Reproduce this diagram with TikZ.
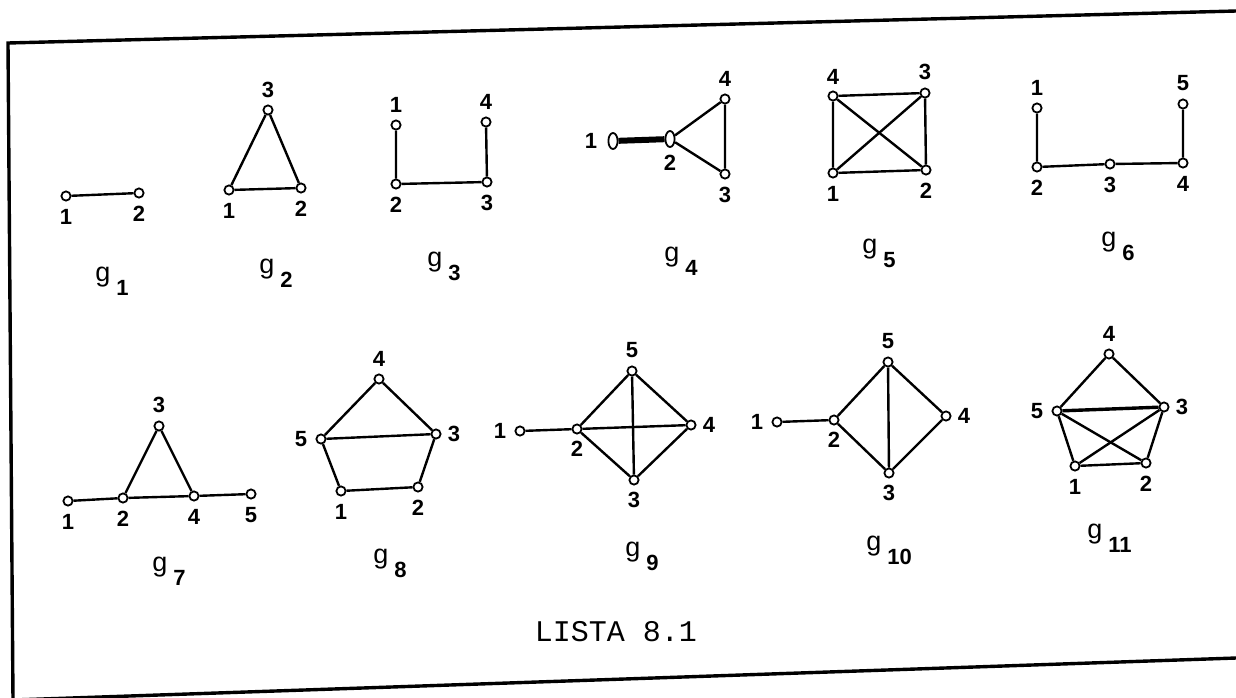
\documentclass[tikz,border=0pt]{standalone}
\usepackage{fontspec}
\setmainfont{Liberation Sans}
\newfontfamily\dotfont{Liberation Mono}
\usetikzlibrary{positioning}
\usetikzlibrary{shapes.geometric}
\tikzset{
vertex/.style={circle, draw, line width=0.9pt, fill=white, inner sep=0pt, minimum size=4.6pt},
oval_vertex/.style={ellipse, draw, line width=0.9pt, fill=white, inner sep=0pt, minimum width=4.6pt, minimum height=8pt},
edge/.style={line width=1.2pt},
heavy_edge/.style={line width=3pt},
num/.style={inner sep=0pt, font=\bfseries\fontsize{11}{11}\selectfont},
gname/.style={inner sep=0pt, anchor=base west, font=\fontsize{13.5}{13.5}\selectfont},
frame_line/.style={line width=1.7pt},
caption/.style={inner sep=0pt, font=\dotfont\fontsize{15}{15}\selectfont}
}
\newcommand{\gsub}[1]{g\kern3pt\raisebox{-7pt}{\bfseries\fontsize{11}{11}\selectfont #1}}

\begin{document}
\begin{tikzpicture}[x=0.5pt, y=-0.5pt]
    \useasboundingbox (0,0) rectangle (1236,697);
    \coordinate (frame_tl) at (8,43);
    \coordinate (frame_tr) at (1236,11);
    \coordinate (frame_bl) at (13,700);
    \coordinate (frame_br) at (1236,658);
    \draw[frame_line] (frame_tr) -- (frame_tl) -- (frame_bl);
    \draw[frame_line] (frame_bl) -- (frame_br);

    \node[vertex] (g1_1) at (66,196) {};
    \node[vertex] (g1_2) at (139,193) {};
    \draw[edge] (g1_1) -- (g1_2);
    \node[num] (g1_l1) [below=3.5pt of g1_1] {1};
    \node[num] (g1_l2) [below=3.5pt of g1_2] {2};
    \node[gname] (g1_name) at (95,281) {\gsub{1}};

    \node[vertex] (g2_1) at (229,190) {};
    \node[vertex] (g2_2) at (301,188) {};
    \node[vertex] (g2_3) at (268,110) {};
    \draw[edge] (g2_1) -- (g2_2) -- (g2_3) -- (g2_1);
    \node[num] (g2_l1) [below=3.5pt of g2_1] {1};
    \node[num] (g2_l2) [below=3.5pt of g2_2] {2};
    \node[num] (g2_l3) [above=3pt of g2_3] {3};
    \node[gname] (g2_name) at (259,273) {\gsub{2}};

    \node[vertex] (g3_1) at (396,125) {};
    \node[vertex] (g3_2) at (396,184) {};
    \node[vertex] (g3_3) at (487,182) {};
    \node[vertex] (g3_4) at (486,122) {};
    \draw[edge] (g3_1) -- (g3_2) -- (g3_3) -- (g3_4);
    \node[num] (g3_l1) [above=3.5pt of g3_1] {1};
    \node[num] (g3_l2) [below=3.5pt of g3_2] {2};
    \node[num] (g3_l3) [below=3.5pt of g3_3] {3};
    \node[num] (g3_l4) [above=3.5pt of g3_4] {4};
    \node[gname] (g3_name) at (427,266) {\gsub{3}};

    \node[oval_vertex] (g4_1) at (613,141) {};
    \node[oval_vertex] (g4_2) at (670,139) {};
    \node[vertex] (g4_3) at (725,174) {};
    \node[vertex] (g4_4) at (725,99) {};
    \draw[heavy_edge] (g4_1) -- (g4_2);
    \draw[edge] (g4_2) -- (g4_4) -- (g4_3) -- (g4_2);
    \node[num] (g4_l1) [left=5pt of g4_1] {1};
    \node[num] (g4_l2) [below=3.5pt of g4_2] {2};
    \node[num] (g4_l3) [below=3.5pt of g4_3] {3};
    \node[num] (g4_l4) [above=3.5pt of g4_4] {4};
    \node[gname] (g4_name) at (664,261) {\gsub{4}};

    \node[vertex] (g5_1) at (833,173) {};
    \node[vertex] (g5_2) at (926,170) {};
    \node[vertex] (g5_3) at (925,93) {};
    \node[vertex] (g5_4) at (833,96) {};
    \draw[edge] (g5_1) -- (g5_2) -- (g5_3) -- (g5_4) -- (g5_1);
    \draw[edge] (g5_4) -- (g5_2);
    \draw[edge] (g5_1) -- (g5_3);
    \node[num] (g5_l1) [below=3.5pt of g5_1] {1};
    \node[num] (g5_l2) [below=3.5pt of g5_2] {2};
    \node[num] (g5_l3) [above=3.5pt of g5_3] {3};
    \node[num] (g5_l4) [above=3pt of g5_4] {4};
    \node[gname] (g5_name) at (862,253) {\gsub{5}};

    \node[vertex] (g6_1) at (1037,108) {};
    \node[vertex] (g6_2) at (1037,167) {};
    \node[vertex] (g6_3) at (1110,164) {};
    \node[vertex] (g6_4) at (1183,163) {};
    \node[vertex] (g6_5) at (1183,104) {};
    \draw[edge] (g6_1) -- (g6_2) -- (g6_3) -- (g6_4) -- (g6_5);
    \node[num] (g6_l1) [above=3.5pt of g6_1] {1};
    \node[num] (g6_l2) [below=3.5pt of g6_2] {2};
    \node[num] (g6_l3) [below=3.5pt of g6_3] {3};
    \node[num] (g6_l4) [below=3.5pt of g6_4] {4};
    \node[num] (g6_l5) [above=3.5pt of g6_5] {5};
    \node[gname] (g6_name) at (1101,246) {\gsub{6}};

    \node[vertex] (g7_1) at (68,501) {};
    \node[vertex] (g7_2) at (123,498) {};
    \node[vertex] (g7_3) at (159,426) {};
    \node[vertex] (g7_4) at (194,496) {};
    \node[vertex] (g7_5) at (251,494) {};
    \draw[edge] (g7_1) -- (g7_2) -- (g7_4) -- (g7_5);
    \draw[edge] (g7_2) -- (g7_3) -- (g7_4);
    \node[num] (g7_l1) [below=3.5pt of g7_1] {1};
    \node[num] (g7_l2) [below=3.5pt of g7_2] {2};
    \node[num] (g7_l3) [above=3.5pt of g7_3] {3};
    \node[num] (g7_l4) [below=3.5pt of g7_4] {4};
    \node[num] (g7_l5) [below=3.5pt of g7_5] {5};
    \node[gname] (g7_name) at (152,571) {\gsub{7}};

    \node[vertex] (g8_1) at (341,491) {};
    \node[vertex] (g8_2) at (418,487) {};
    \node[vertex] (g8_3) at (436,434) {};
    \node[vertex] (g8_4) at (379,379) {};
    \node[vertex] (g8_5) at (321,439) {};
    \draw[edge] (g8_1) -- (g8_2) -- (g8_3) -- (g8_4) -- (g8_5) -- (g8_1);
    \draw[edge] (g8_5) -- (g8_3);
    \node[num] (g8_l1) [below=3.5pt of g8_1] {1};
    \node[num] (g8_l2) [below=3.5pt of g8_2] {2};
    \node[num] (g8_l3) [right=3pt of g8_3] {3};
    \node[num] (g8_l4) [above=3.5pt of g8_4] {4};
    \node[num] (g8_l5) [left=4pt of g8_5] {5};
    \node[gname] (g8_name) at (373,563) {\gsub{8}};

    \node[vertex] (g9_1) at (520,431) {};
    \node[vertex] (g9_2) at (577,429) {};
    \node[vertex] (g9_3) at (634,480) {};
    \node[vertex] (g9_4) at (691,425) {};
    \node[vertex] (g9_5) at (632,371) {};
    \draw[edge] (g9_1) -- (g9_2) -- (g9_5) -- (g9_4) -- (g9_3) -- (g9_2);
    \draw[edge] (g9_5) -- (g9_3);
    \draw[edge] (g9_2) -- (g9_4);
    \node[num] (g9_l1) [left=4pt of g9_1] {1};
    \node[num] (g9_l2) [below=3pt of g9_2] {2};
    \node[num] (g9_l3) [below=3pt of g9_3] {3};
    \node[num] (g9_l4) [right=3pt of g9_4] {4};
    \node[num] (g9_l5) [above=3.5pt of g9_5] {5};
    \node[gname] (g9_name) at (625,556) {\gsub{9}};

    \node[vertex] (g10_1) at (777,422) {};
    \node[vertex] (g10_2) at (834,420) {};
    \node[vertex] (g10_3) at (889,473) {};
    \node[vertex] (g10_4) at (946,416) {};
    \node[vertex] (g10_5) at (888,362) {};
    \draw[edge] (g10_1) -- (g10_2) -- (g10_5) -- (g10_4) -- (g10_3) -- (g10_2);
    \draw[edge] (g10_5) -- (g10_3);
    \node[num] (g10_l1) [left=4pt of g10_1] {1};
    \node[num] (g10_l2) [below=3pt of g10_2] {2};
    \node[num] (g10_l3) [below=3pt of g10_3] {3};
    \node[num] (g10_l4) [right=3pt of g10_4] {4};
    \node[num] (g10_l5) [above=3.5pt of g10_5] {5};
    \node[gname] (g10_name) at (866,550) {\gsub{10}};

    \node[vertex] (g11_1) at (1075,466) {};
    \node[vertex] (g11_2) at (1146,463) {};
    \node[vertex] (g11_3) at (1164,407) {};
    \node[vertex] (g11_4) at (1109,354) {};
    \node[vertex] (g11_5) at (1057,411) {};
    \draw[edge] (g11_1) -- (g11_2) -- (g11_3) -- (g11_4) -- (g11_5) -- (g11_1);
    \draw[heavy_edge, line width=1.7pt] (g11_5) -- (g11_3);
    \draw[edge] (g11_5) -- (g11_2);
    \draw[edge] (g11_1) -- (g11_3);
    \node[num] (g11_l1) [below=3.5pt of g11_1] {1};
    \node[num] (g11_l2) [below=3.5pt of g11_2] {2};
    \node[num] (g11_l3) [right=3pt of g11_3] {3};
    \node[num] (g11_l4) [above=3.5pt of g11_4] {4};
    \node[num] (g11_l5) [left=4pt of g11_5] {5};
    \node[gname] (g11_name) at (1087,538) {\gsub{11}};

    \node[caption] (lista) at (616,632) {LISTA 8.1};
\end{tikzpicture}
\end{document}
